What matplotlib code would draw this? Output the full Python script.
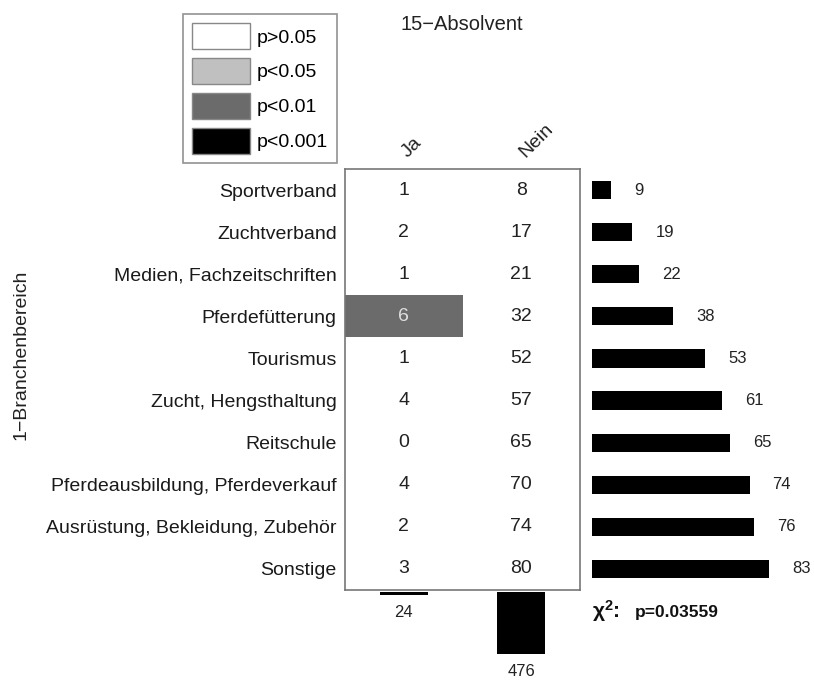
import numpy as np
import matplotlib
matplotlib.use('Agg')
import matplotlib.pyplot as plt
from matplotlib.patches import Patch

plt.rcParams['font.family'] = ['Liberation Sans', 'DejaVu Sans']

# data
rows = ['Sportverband', 'Zuchtverband', 'Medien, Fachzeitschriften', 'Pferdefütterung',
        'Tourismus', 'Zucht, Hengsthaltung', 'Reitschule',
        'Pferdeausbildung, Pferdeverkauf', 'Ausrüstung, Bekleidung, Zubehör', 'Sonstige']
cols = ['Ja', 'Nein']
ja = [1, 2, 1, 6, 1, 4, 0, 4, 2, 3]
nein = [8, 17, 21, 32, 52, 57, 65, 70, 74, 80]
row_totals = [9, 19, 22, 38, 53, 61, 65, 74, 76, 83]
col_totals = [24, 476]
# significance class of each cell (Ja, Nein)
sig_ja = ['p>0.05', 'p>0.05', 'p>0.05', 'p<0.01', 'p>0.05',
          'p>0.05', 'p>0.05', 'p>0.05', 'p>0.05', 'p>0.05']
sig_nein = ['p>0.05'] * 10
sig_levels = ['p>0.05', 'p<0.05', 'p<0.01', 'p<0.001']
sig_colors = {'p>0.05': 'white', 'p<0.05': '#c0c0c0', 'p<0.01': '#6b6b6b', 'p<0.001': 'black'}
chi_p = 0.03559
title = '15\u2212Absolvent'
ylab = '1\u2212Branchenbereich'

W, H = 814, 680
fig = plt.figure(figsize=(W / 100, H / 100), dpi=100)

def box(x0, y0, x1, y1):
    # pixel box (top-left origin) -> figure fraction
    return [x0 / W, 1 - y1 / H, (x1 - x0) / W, (y1 - y0) / H]

# main table
ax = fig.add_axes(box(345, 169, 580, 590))
n = len(rows)
y = np.arange(n) + 0.5
for j, (vals, sig) in enumerate([(ja, sig_ja), (nein, sig_nein)]):
    ax.barh(y, 1, left=j, height=1, color=[sig_colors[s] for s in sig], edgecolor='none')
    for i in range(n):
        dark = sig[i] in ('p<0.01', 'p<0.001')
        ax.text(j + 0.5, y[i], str(vals[i]), ha='center', va='center', fontsize=14,
                color='#dddddd' if dark else '#222222')
ax.set_xlim(0, 2)
ax.set_ylim(n, 0)
ax.set_yticks(y)
ax.set_yticklabels(rows, fontsize=14, color='#1a1a1a')
ax.tick_params(axis='y', length=0, pad=6)
ax.set_xticks([])
for s in ax.spines.values():
    s.set_color('#777777')
    s.set_linewidth(1.2)
# column labels above the table
for j, c in enumerate(cols):
    ax.text(j + 0.56, -0.2, c, rotation=45, rotation_mode='anchor', ha='left', va='bottom',
            fontsize=14, color='#222222', clip_on=False)

# row totals
axr = fig.add_axes(box(592, 169, 814, 590))
axr.barh(y, row_totals, height=0.43, color='black')
for i, v in enumerate(row_totals):
    axr.text(v + 10.8, y[i], str(v), ha='left', va='center', fontsize=12, color='#222222')
axr.set_xlim(0, 222 / 2.13)
axr.set_ylim(n, 0)
axr.axis('off')

# column totals
axb = fig.add_axes(box(345, 592, 580, 680))
xc = np.arange(len(cols)) + 0.5
axb.bar(xc, col_totals, width=0.41, color='black')
for k, v in enumerate(col_totals):
    axb.annotate(str(v), (xc[k], v), xytext=(0, -7), textcoords='offset points',
                 ha='center', va='top', fontsize=12, color='#222222')
axb.set_xlim(0, 2)
axb.set_ylim(88 / (62 / 476), 0)
axb.axis('off')

# chi-square
fig.text(592 / W, 1 - 611 / H, r'$\mathregular{\chi^2}$:', ha='left', va='center',
         fontsize=15, fontweight='bold', color='#111111')
fig.text(635 / W, 1 - 612 / H, 'p=%.5f' % chi_p, ha='left', va='center',
         fontsize=12.5, fontweight='bold', color='#111111')

# title & y label
fig.text(462 / W, 1 - 24 / H, title, ha='center', va='center', fontsize=14.5, color='#222222')
fig.text(21 / W, 1 - 355 / H, ylab, rotation=90, ha='center', va='center', fontsize=14,
         color='#222222')

# legend
handles = [Patch(facecolor=sig_colors[s], edgecolor='#888888', linewidth=1) for s in sig_levels]
leg = fig.legend(handles, sig_levels, loc='upper left', bbox_to_anchor=(183 / W, 1 - 14 / H),
                 bbox_transform=fig.transFigure, fontsize=14, frameon=True, fancybox=False,
                 handlelength=2.98, handleheight=1.68, labelspacing=0.45, borderpad=0.48,
                 handletextpad=0.31, borderaxespad=0)
leg.get_frame().set_edgecolor('#777777')
leg.get_frame().set_linewidth(1.2)

fig.savefig('out.png', dpi=100)
